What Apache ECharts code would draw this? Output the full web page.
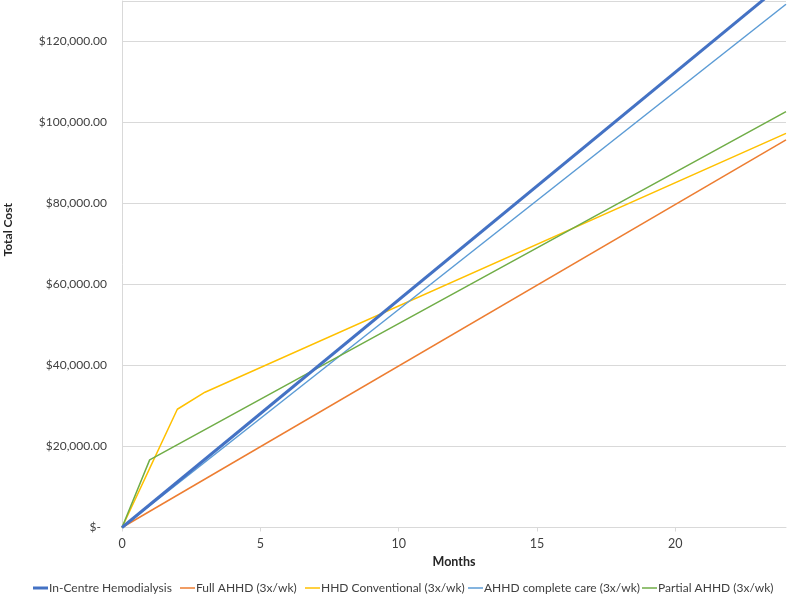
<!DOCTYPE html>
<html>
<head>
<meta charset="utf-8">
<script src="https://cdn.jsdelivr.net/npm/echarts@6/dist/echarts.min.js"></script>
<style>
html,body{margin:0;padding:0;background:#fff;}
#chart{width:788px;height:597px;}
</style>
</head>
<body>
<div id="chart"></div>
<script>
// Series names
var seriesNames = ['In-Centre Hemodialysis', 'Full AHHD (3x/wk)', 'HHD Conventional (3x/wk)', 'AHHD complete care (3x/wk)', 'Partial AHHD (3x/wk)'];
// Vertices (months) and total cost values
var inCentreMonths = [0, 24];
var inCentreCost = [0, 134900];
var fullAhhdMonths = [0, 24];
var fullAhhdCost = [0, 95700];
var hhdConvMonths = [0, 1, 2, 3, 24];
var hhdConvCost = [0, 14600, 29200, 33400, 97300];
var ahhdCompleteMonths = [0, 24];
var ahhdCompleteCost = [0, 129200];
var partialMonths = [0, 1, 24];
var partialCost = [0, 16700, 102700];
// Axis ticks
var yTicks = [0, 20000, 40000, 60000, 80000, 100000, 120000];
var xTicks = [0, 5, 10, 15, 20];

var colors = ['#4472C4', '#ED7D31', '#FFC000', '#5B9BD5', '#70AD47'];
var widths = [3, 1.5, 1.5, 1.5, 1.5];

function pairs(xs, ys) { return xs.map(function (x, i) { return [x, ys[i]]; }); }
var seriesData = [
  pairs(inCentreMonths, inCentreCost),
  pairs(fullAhhdMonths, fullAhhdCost),
  pairs(hhdConvMonths, hhdConvCost),
  pairs(ahhdCompleteMonths, ahhdCompleteCost),
  pairs(partialMonths, partialCost)
];

function fmt(v) {
  if (v === 0) return '$-  ';
  return '$' + v.toLocaleString('en-US', {minimumFractionDigits: 2, maximumFractionDigits: 2});
}

var FONT = 'Lato';
var legendLefts = [33, 180, 305, 468, 642];
var legendIconH = [3, 1.5, 1.5, 1.5, 1.5];

var chart = echarts.init(document.getElementById('chart'), null, {renderer: 'canvas'});
var option = {
  animation: false,
  backgroundColor: '#fff',
  textStyle: {fontFamily: FONT},
  grid: {left: 122, right: 2, top: 1, bottom: 69.5, containLabel: false},
  legend: seriesNames.map(function (n, i) {
    return {
      data: [{name: n, icon: 'rect'}], left: legendLefts[i], top: 582,
      itemWidth: 15, itemHeight: legendIconH[i], itemGap: 2,
      padding: 0,
      itemStyle: {color: colors[i], borderWidth: 0},
      textStyle: {fontFamily: FONT, fontSize: 12, color: '#404040', padding: [0, 0, 0, -4]}
    };
  }),
  xAxis: {
    type: 'value', min: 0, max: 24, interval: 5,
    name: 'Months', nameLocation: 'middle', nameGap: 28,
    nameTextStyle: {fontFamily: FONT, fontWeight: 'bold', fontSize: 12.5, color: '#262626'},
    axisLine: {show: true, lineStyle: {color: '#d9d9d9', width: 1}},
    axisTick: {show: true, length: 4, lineStyle: {color: '#d9d9d9'}},
    axisLabel: {color: '#404040', fontSize: 12.5, fontFamily: FONT, margin: 10, showMaxLabel: false,
      formatter: function (v) { return xTicks.indexOf(v) >= 0 ? String(v) : ''; }},
    splitLine: {show: false}
  },
  yAxis: {
    type: 'value', min: 0, max: 130000, interval: 20000,
    axisLine: {show: true, lineStyle: {color: '#d9d9d9', width: 1}},
    axisTick: {show: false},
    axisLabel: {color: '#404040', fontSize: 12, fontFamily: FONT, margin: 15, showMaxLabel: false,
      formatter: function (v) { return yTicks.indexOf(v) >= 0 ? fmt(v) : ''; }},
    splitLine: {show: true, lineStyle: {color: '#d9d9d9', width: 1}}
  },
  graphic: [{
    type: 'text', left: 2, top: 203, rotation: Math.PI / 2,
    style: {text: 'Total Cost', fontFamily: FONT, fontWeight: 'bold', fontSize: 12, fill: '#262626'}
  }],
  series: seriesNames.map(function (n, i) {
    return {
      name: n, type: 'line', data: seriesData[i], showSymbol: false, symbol: 'none',
      clip: true, z: i === 0 ? 5 : 3,
      lineStyle: {color: colors[i], width: widths[i]},
      itemStyle: {color: colors[i]}
    };
  })
};
chart.setOption(option);
</script>
</body>
</html>
